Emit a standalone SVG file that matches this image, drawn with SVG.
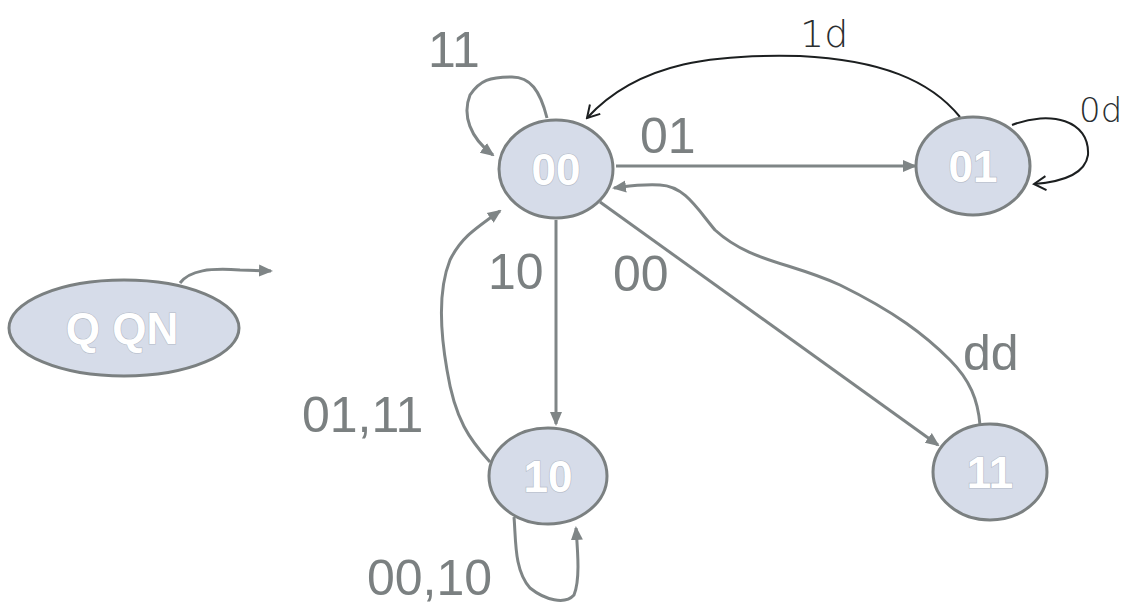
<svg xmlns="http://www.w3.org/2000/svg" width="1124" height="606" viewBox="0 0 1124 606">
<style>
.node ellipse{fill:#d6dce9;stroke:#7b8081;stroke-width:3}
.nt{font-family:"Liberation Sans",Arial,sans-serif;font-weight:700;font-size:44px;fill:#ffffff;stroke:#b4bac6;stroke-width:1.2;paint-order:stroke;text-anchor:middle}
.e{fill:none;stroke:#7f8586;stroke-width:3}
.h{fill:none;stroke:#1c1f20;stroke-width:2}
.lab{font-family:"Liberation Sans",Arial,sans-serif;font-size:50px;fill:#7b8081}
.hw{font-family:"DejaVu Sans",sans-serif;font-weight:200;fill:#2a2e30}
</style>
<defs>
<marker id="ag" markerWidth="14" markerHeight="14" refX="12" refY="7" orient="auto" markerUnits="userSpaceOnUse" viewBox="0 0 14 14">
<path d="M0,1 L14,7 L0,13 z" fill="#7f8586"/>
</marker>
<marker id="ab" markerWidth="16" markerHeight="16" refX="14" refY="8" orient="auto" markerUnits="userSpaceOnUse" viewBox="0 0 16 16">
<path d="M2,1 L14,8 L2,15" fill="none" stroke="#1c1f20" stroke-width="2"/>
</marker>
</defs>
<rect width="1124" height="606" fill="#ffffff"/>
<g id="connectors">
<path class="e" d="M547,118 C540,90 530,77 512,77 C490,77 480,80 470,95 C462,115 470,138 493,155" marker-end="url(#ag)"/>
<path class="e" d="M616,166 L915,166" marker-end="url(#ag)"/>
<path class="h" d="M960,117 C930,80 880,60 800,56 C720,54 640,60 587,118" marker-end="url(#ab)"/>
<path class="h" d="M1012,125 C1050,110 1090,120 1088,155 C1085,175 1060,182 1034,184" marker-end="url(#ab)"/>
<path class="e" d="M556,220 L556,424" marker-end="url(#ag)"/>
<path class="e" d="M600,202 L938,445" marker-end="url(#ag)"/>
<path class="e" d="M980,425 C978,400 970,380 950,360 C925,335 895,312 840,285 C790,262 750,262 715,230 C698,210 685,186 660,185 C640,184 630,186 614,188" marker-end="url(#ag)"/>
<path class="e" d="M490,462 C470,440 455,420 447,370 C440,330 438,290 450,260 C460,240 470,232 500,211" marker-end="url(#ag)"/>
<path class="e" d="M514,517 C516,540 514,570 530,588 C545,600 565,605 574,595 C580,580 578,555 576,528" marker-end="url(#ag)"/>
<path class="e" d="M180,283 C190,270 210,268 240,270 L271,271" marker-end="url(#ag)"/>
</g>
<g id="labels">
<text class="lab" x="428" y="67">11</text>
<text class="lab" x="640" y="153">01</text>
<text class="lab" x="488" y="289">10</text>
<text class="lab" x="613" y="291">00</text>
<text class="lab" x="963" y="370">dd</text>
<text class="lab" x="302" y="432">01,11</text>
<text class="lab" x="367" y="595">00,10</text>
<text class="hw" x="800" y="47" font-size="38">1d</text>
<text class="hw" x="1079" y="122" font-size="34">0d</text>
</g>
<g id="node-qqn" class="node"><ellipse cx="124" cy="328" rx="115" ry="48"/><text class="nt" x="122" y="344" font-size="46">Q QN</text></g>
<g id="node-00" class="node"><ellipse cx="556" cy="169" rx="57" ry="49"/><text class="nt" x="556" y="185">00</text></g>
<g id="node-01" class="node"><ellipse cx="973" cy="166" rx="57" ry="49"/><text class="nt" x="973" y="182">01</text></g>
<g id="node-10" class="node"><ellipse cx="548" cy="476" rx="59" ry="48"/><text class="nt" x="548" y="492">10</text></g>
<g id="node-11" class="node"><ellipse cx="990" cy="472" rx="57" ry="48"/><text class="nt" x="990" y="488">11</text></g>
</svg>
